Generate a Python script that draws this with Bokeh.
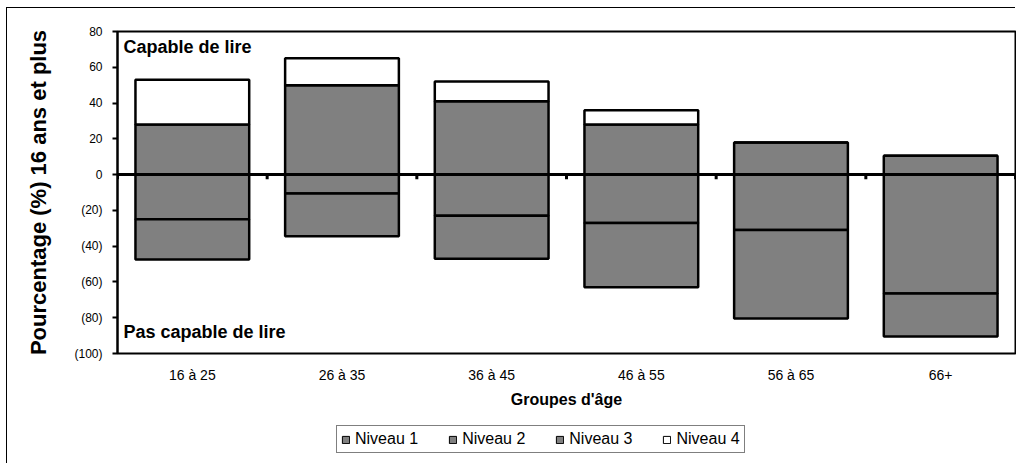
import numpy as np
from bokeh.plotting import figure
from bokeh.layouts import column
from bokeh.models import (ColumnDataSource, FactorRange, Range1d, FixedTicker, NumeralTickFormatter,
                          Span, Label, Legend, LegendItem)
from bokeh.embed import file_html
from bokeh.resources import INLINE

# ---- data ----
groups = ["16 à 25", "26 à 35", "36 à 45", "46 à 55", "56 à 65", "66+"]
niveau1 = [22.5, 24.0, 24.0, 36.0, 49.5, 24.0]   # drawn below zero
niveau2 = [25.0, 10.5, 23.0, 27.0, 31.0, 66.5]   # drawn below zero
niveau3 = [28.0, 50.0, 41.0, 28.0, 18.0, 10.5]   # drawn above zero
niveau4 = [25.0, 15.0, 11.0, 8.0, 0.0, 0.0]      # drawn above zero
y_ticks = [-100, -80, -60, -40, -20, 0, 20, 40, 60, 80]
series_names = ["Niveau 1", "Niveau 2", "Niveau 3", "Niveau 4"]
series_colors = ["#808080", "#808080", "#808080", "#ffffff"]

FONT = "Liberation Sans"

src = ColumnDataSource(dict(
    groups=groups,
    n1=-np.array(niveau1),
    n2=-np.array(niveau2),
    n3=np.array(niveau3),
    n4=np.array(niveau4),
))

# ---------------- main chart ----------------
p = figure(x_range=FactorRange(*groups), y_range=Range1d(-100, 80),
           width=1009, height=407, output_backend="svg", toolbar_location=None,
           min_border_left=110, min_border_top=23, min_border_right=1, min_border_bottom=62)

p.background_fill_color = "white"
p.border_fill_color = "white"
p.outline_line_color = "black"
p.outline_line_width = 2
p.xgrid.grid_line_color = None
p.ygrid.grid_line_color = None

bar_w = 0.76
neg = p.vbar_stack(["n2", "n1"], x="groups", width=bar_w, source=src,
                   fill_color=[series_colors[1], series_colors[0]],
                   line_color="black", line_width=2.5)
pos = p.vbar_stack(["n3", "n4"], x="groups", width=bar_w, source=src,
                   fill_color=[series_colors[2], series_colors[3]],
                   line_color="black", line_width=2.5)

# zero line with category separators
p.add_layout(Span(location=0, dimension="width", line_color="black", line_width=3))
bounds = list(range(len(groups) + 1))
p.segment(x0=bounds, y0=[0] * len(bounds), x1=bounds, y1=[-2.6] * len(bounds),
          line_color="black", line_width=3)

# annotations
p.add_layout(Label(x=0, y=80, x_offset=6, y_offset=-5, text="Capable de lire",
                   text_baseline="top", text_font=FONT, text_font_style="bold",
                   text_font_size="18px", text_color="black"))
p.add_layout(Label(x=0, y=-100, x_offset=6, y_offset=22, text="Pas capable de lire",
                   text_baseline="alphabetic", text_font=FONT, text_font_style="bold",
                   text_font_size="18px", text_color="black"))

# y axis
yax = p.yaxis[0]
yax.ticker = FixedTicker(ticks=y_ticks)
yax.formatter = NumeralTickFormatter(format="(0)")
yax.minor_tick_line_color = None
yax.major_tick_in = 0
yax.major_tick_out = 5
yax.major_tick_line_width = 2
yax.axis_line_width = 2
yax.major_label_text_font = FONT
yax.major_label_text_font_size = "12px"
yax.major_label_text_color = "black"
yax.major_label_standoff = 10
yax.axis_label = "Pourcentage (%) 16 ans et plus"
yax.axis_label_text_font = FONT
yax.axis_label_text_font_style = "bold"
yax.axis_label_text_font_size = "22px"
yax.axis_label_text_color = "black"
yax.axis_label_standoff = 20

# x axis
xax = p.xaxis[0]
xax.axis_line_color = None
xax.major_tick_line_color = None
xax.minor_tick_line_color = None
xax.major_label_text_font = FONT
xax.major_label_text_font_size = "14px"
xax.major_label_text_color = "black"
xax.major_label_standoff = 7
xax.axis_label = "Groupes d'âge"
xax.axis_label_text_font = FONT
xax.axis_label_text_font_style = "bold"
xax.axis_label_text_font_size = "16px"
xax.axis_label_text_color = "black"
xax.axis_label_standoff = 5

# ---------------- legend strip ----------------
pl = figure(width=1009, height=49, output_backend="svg", toolbar_location=None,
            x_range=Range1d(0, 1), y_range=Range1d(0, 1),
            x_axis_location=None, y_axis_location=None,
            min_border_left=0, min_border_right=0, min_border_top=0, min_border_bottom=0)
pl.outline_line_color = None
pl.background_fill_color = "white"
pl.border_fill_color = "white"
pl.xgrid.grid_line_color = None
pl.ygrid.grid_line_color = None

# legend proxies: one point each, kept outside the visible range
leg_renderers = []
for col in series_colors:
    r = pl.rect(x=[-5], y=[-5], width=0.01, height=0.01, fill_color=col,
                line_color="black", line_width=1)
    leg_renderers.append(r)
legend = Legend(items=[LegendItem(label=n, renderers=[r]) for n, r in zip(series_names, leg_renderers)],
                orientation="horizontal", location=(219, 11),
                glyph_width=9, glyph_height=9, label_standoff=5, spacing=30,
                label_text_font=FONT, label_text_font_size="16px", label_text_color="black",
                border_line_color="black", border_line_width=1, padding=4, margin=0,
                background_fill_color="white", background_fill_alpha=1.0)
pl.add_layout(legend, "center")

layout = column(p, pl, spacing=0)
layout.styles = {"margin-left": "7px", "margin-top": "8px", "box-shadow": "-1px -1px 0 0 black"}

open("out.html", "w").write(file_html(layout, INLINE))
